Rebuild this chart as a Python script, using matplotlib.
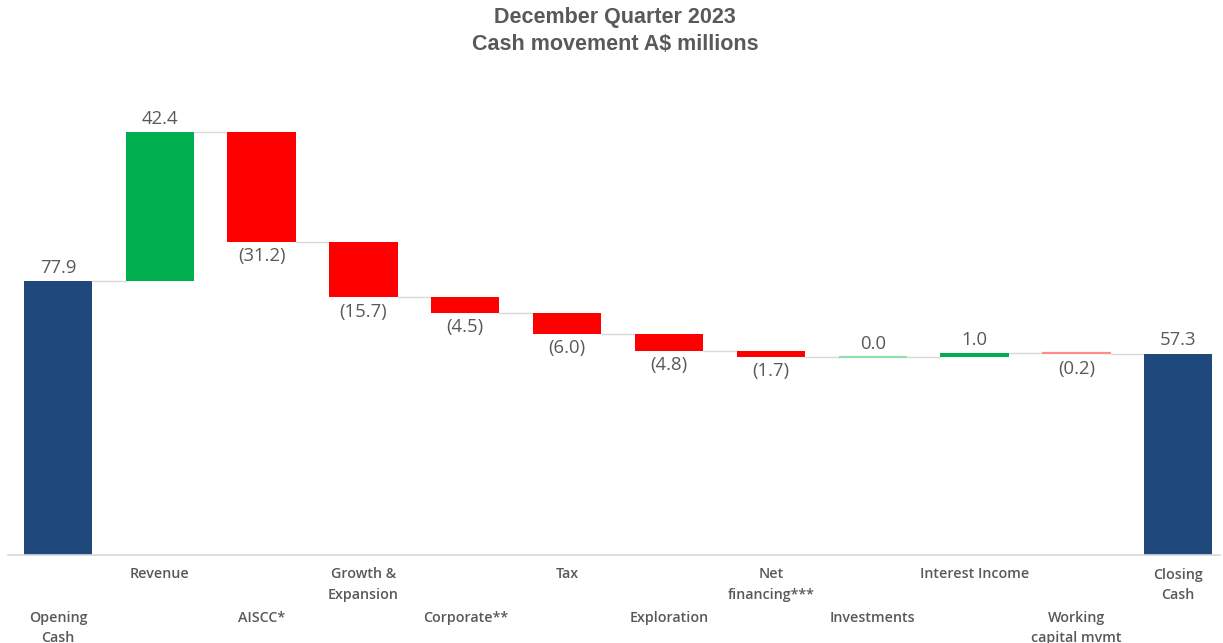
import matplotlib.pyplot as plt

categories = ["Opening\nCash", "Revenue", "AISCC*", "Growth &\nExpansion", "Corporate**", "Tax",
              "Exploration", "Net\nfinancing***", "Investments", "Interest Income",
              "Working\ncapital mvmt", "Closing\nCash"]
opening = 77.9
changes = [42.4, -31.2, -15.7, -4.5, -6.0, -4.8, -1.7, 0.0, 1.0, -0.2]
closing = 57.3
title_lines = ["December Quarter 2023", "Cash movement A$ millions"]

BLUE = "#1f497d"
GREEN = "#00b050"
RED = "#ff0000"
GRAY = "#595959"

fig = plt.figure(figsize=(12.23, 6.43), dpi=100)
ax = fig.add_axes([8 / 1223, 1 - 555 / 643, 1212 / 1223, 485 / 643])
ax.set_xlim(-0.49, 11.41)
ax.set_ylim(0, 138)
ax.axis("off")

w = 0.67
lab_font = dict(family="Open Sans", size=10.3, weight="semibold", color=GRAY)
val_font = dict(family=["Open Sans", "DejaVu Sans"], size=13.3, color=GRAY)


def value_label(x, y, txt, above):
    ax.annotate(txt, (x, y), xytext=(0, 3 if above else -4), textcoords="offset points",
                ha="center", va="bottom" if above else "top", **val_font)


# opening bar
ax.bar(0, opening, width=w, color=BLUE)
value_label(0, opening, f"{opening:.1f}", True)

level = opening
for i, d in enumerate(changes, start=1):
    # connector from previous bar
    ax.plot([i - 1 + w / 2, i - w / 2], [level, level], color="#d9d9d9", lw=1, zorder=1)
    new = level + d
    col = GREEN if d >= 0 else RED
    if abs(d) < 0.5:
        light = "#8fe0ad" if d >= 0 else "#ff8a8a"
        ax.plot([i - w / 2, i + w / 2], [max(level, new), max(level, new)], color=light, lw=1.6,
                solid_capstyle="butt", zorder=2)
    else:
        ax.bar(i, d, bottom=level, width=w, color=col, zorder=2)
    if d >= 0:
        value_label(i, new, f"{d:.1f}", True)
    else:
        value_label(i, level + d, f"({abs(d):.1f})", False)
    level = new

n = len(categories) - 1
ax.plot([n - 1 + w / 2, n - w / 2], [closing, closing], color="#d9d9d9", lw=1, zorder=1)
ax.bar(n, closing, width=w, color=BLUE)
value_label(n, closing, f"{closing:.1f}", True)

# baseline
ax.plot([-0.49, 11.41], [0, 0], color="#d9d9d9", lw=1.2, clip_on=False)

# staggered category labels
for i, c in enumerate(categories):
    off = -9 if i % 2 == 1 else -40
    ax.annotate(c, (i, 0), xytext=(0, off), textcoords="offset points",
                ha="center", va="top", linespacing=1.55, annotation_clip=False, **lab_font)

for k, t in enumerate(title_lines):
    fig.text(0.503, 1 - (18 + 27 * k) / 643, t, ha="center", va="center",
             family="Liberation Sans", weight="bold", size=15.5, color=GRAY)

fig.savefig("out.png", dpi=100, facecolor="white")
